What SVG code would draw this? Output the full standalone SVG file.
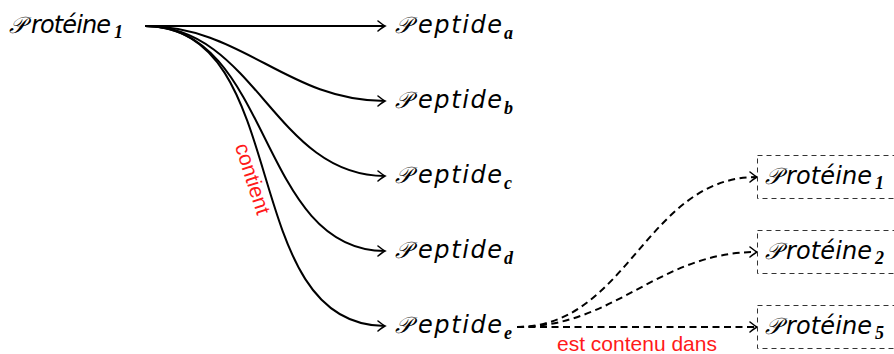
<svg xmlns="http://www.w3.org/2000/svg" width="894" height="354" viewBox="0 0 894 354">
<style>
.cal{font-family:"DejaVu Serif","DejaVu Sans",serif;font-size:23px;font-style:italic;fill:#000}
.w{font-family:"DejaVu Sans",sans-serif;font-style:oblique;font-size:24px;fill:#000}
.sub{font-family:"Liberation Serif",serif;font-weight:bold;font-style:italic;font-size:18px;fill:#000}
.lbl{font-family:"Liberation Sans",sans-serif;font-size:21px;fill:#ff1a1a}
.e{fill:none;stroke:#000;stroke-width:2}
.d{fill:none;stroke:#000;stroke-width:2;stroke-dasharray:7 4.5}
.box{fill:#fff;stroke:#333;stroke-width:1;stroke-dasharray:5 4}
</style>
<defs>
<marker id="ar" markerUnits="userSpaceOnUse" markerWidth="14" markerHeight="14" viewBox="-10 -7 12 14" refX="0" refY="0" orient="auto">
<path d="M-7,-5 Q-2,-1 0,0 Q-2,1 -7,5" fill="none" stroke="#000" stroke-width="1.6" stroke-linecap="round"/>
</marker>
</defs>
<g id="connectors">
<path class="e" d="M145,26 L385,26" marker-end="url(#ar)"/>
<path class="e" d="M145,26 C243,26 287,101 385,101" marker-end="url(#ar)"/>
<path class="e" d="M145,26 C256,26 274,176 385,176" marker-end="url(#ar)"/>
<path class="e" d="M145,26 C273,26 257,251 385,251" marker-end="url(#ar)"/>
<path class="e" d="M145,26 C295,26 235,326 385,326" marker-end="url(#ar)"/>
<path class="d" d="M517,327 C628,327 646,177 757,177" marker-end="url(#ar)"/>
<path class="d" d="M517,327 C616,327 658,252 757,252" marker-end="url(#ar)"/>
<path class="d" d="M517,327 L757,327" marker-end="url(#ar)"/>
<text class="lbl" transform="translate(246,181) rotate(72)" text-anchor="middle">contient</text>
<text class="lbl" x="637" y="351" text-anchor="middle">est contenu dans</text>
</g>
<g id="prot1">
<text class="cal" x="9" y="33">𝒫</text>
<text class="w" x="31" y="33" textLength="80" lengthAdjust="spacing">rotéine</text>
<text class="sub" x="114" y="38">1</text>
</g>
<g id="pepa">
<text class="cal" x="395" y="33">𝒫</text>
<text class="w" x="418" y="33" textLength="84" lengthAdjust="spacing">eptide</text>
<text class="sub" x="504" y="39">a</text>
</g>
<g id="pepb">
<text class="cal" x="395" y="108">𝒫</text>
<text class="w" x="418" y="108" textLength="84" lengthAdjust="spacing">eptide</text>
<text class="sub" x="504" y="114">b</text>
</g>
<g id="pepc">
<text class="cal" x="395" y="183">𝒫</text>
<text class="w" x="418" y="183" textLength="84" lengthAdjust="spacing">eptide</text>
<text class="sub" x="504" y="189">c</text>
</g>
<g id="pepd">
<text class="cal" x="395" y="258">𝒫</text>
<text class="w" x="418" y="258" textLength="84" lengthAdjust="spacing">eptide</text>
<text class="sub" x="504" y="264">d</text>
</g>
<g id="pepe">
<text class="cal" x="395" y="333">𝒫</text>
<text class="w" x="418" y="333" textLength="84" lengthAdjust="spacing">eptide</text>
<text class="sub" x="504" y="339">e</text>
</g>
<g id="box1">
<rect class="box" x="757.5" y="155.5" width="150" height="43"/>
<text class="cal" x="765" y="184">𝒫</text>
<text class="w" x="786" y="184" textLength="86" lengthAdjust="spacing">rotéine</text>
<text class="sub" x="875" y="189">1</text>
</g>
<g id="box2">
<rect class="box" x="757.5" y="230.5" width="150" height="43"/>
<text class="cal" x="765" y="259">𝒫</text>
<text class="w" x="786" y="259" textLength="86" lengthAdjust="spacing">rotéine</text>
<text class="sub" x="875" y="264">2</text>
</g>
<g id="box3">
<rect class="box" x="757.5" y="305.5" width="150" height="43"/>
<text class="cal" x="765" y="334">𝒫</text>
<text class="w" x="786" y="334" textLength="86" lengthAdjust="spacing">rotéine</text>
<text class="sub" x="875" y="339">5</text>
</g>
</svg>
